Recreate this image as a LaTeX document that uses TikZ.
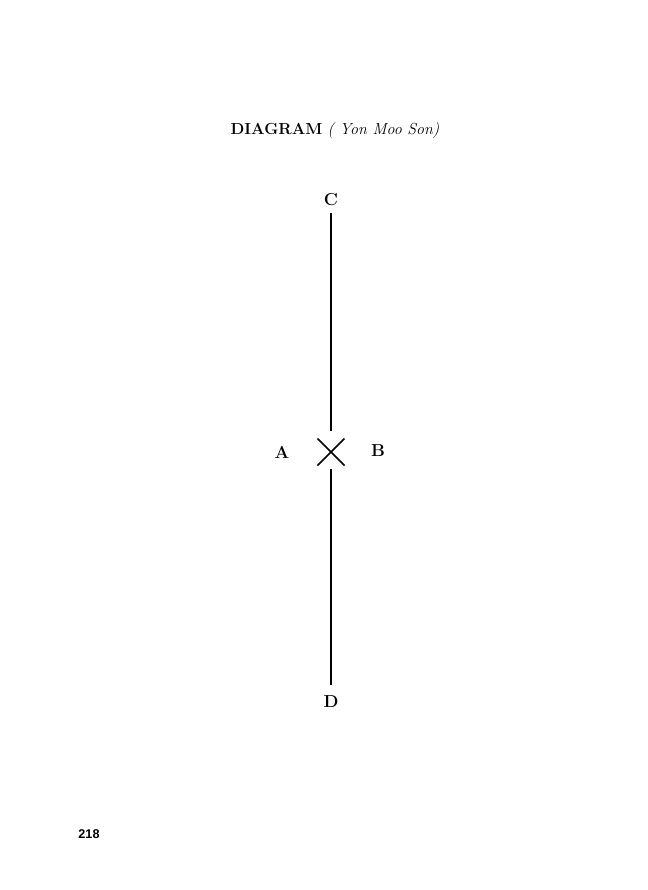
\documentclass[tikz,border=0pt]{standalone}
\usepackage{fontspec}
\newfontfamily\pagenumfont{Liberation Sans}
\usepackage{tikz}

\begin{document}
\begin{tikzpicture}[x=0.75pt,y=-0.75pt,
  lbl/.style={font=\fontsize{13}{15}\selectfont\bfseries,inner sep=5.3pt},
  stem/.style={line width=1.1pt}]

  \useasboundingbox (0,0) rectangle (647,890);

  %% title
  \node (title) at (335,131) {\fontsize{12}{14}\selectfont\textbf{DIAGRAM} \textit{( Yon Moo Son)}};

  %% labels
  \coordinate (ctr) at (331,452);
  \node[lbl] (lblC) at (331,200) {C};
  \node[lbl,inner sep=6.8pt] (lblD) at (331,702) {D};
  \node[lbl] (lblA) at (282,452) {A};
  \node[lbl] (lblB) at (378,451) {B};

  % line C - D, broken at the cross
  \draw[stem,shorten >=15.75pt] (lblC) -- (ctr);
  \draw[stem,shorten <=12.75pt,shorten >=1.6pt] (ctr) -- (lblD);
  % cross
  \draw[stem] (ctr) ++(-13.5,-13.5) -- ++(27,27);
  \draw[stem] (ctr) ++(13.5,-13.5) -- ++(-27,27);

  %% page number
  \node[font=\pagenumfont\fontsize{9.5}{11}\selectfont\bfseries] (pagenum) at (89,834) {218};

\end{tikzpicture}
\end{document}
